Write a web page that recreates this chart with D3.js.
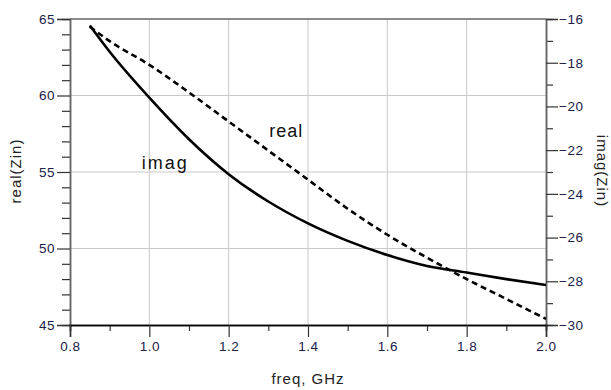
<!DOCTYPE html>
<html>
<head>
<meta charset="utf-8">
<script src="https://cdn.jsdelivr.net/npm/d3@7"></script>
<style>
  body { margin: 0; background: #fff; }
  text { font-family: Arial, "Liberation Sans", sans-serif; }
</style>
</head>
<body>
<div id="chart"></div>
<script>
// freq in GHz
var freq = [0.85, 0.9, 1.0, 1.1, 1.2, 1.3, 1.4, 1.5, 1.6, 1.7, 1.8, 1.9, 2.0];
var realZin = [64.5, 63.55, 62.0, 60.2, 58.3, 56.4, 54.5, 52.6, 50.9, 49.4, 48.0, 46.7, 45.4];
var imagZin = [-16.3, -17.5, -19.6, -21.5, -23.1, -24.35, -25.35, -26.15, -26.8, -27.3, -27.6, -27.9, -28.17];

var xTicks = [0.8, 1.0, 1.2, 1.4, 1.6, 1.8, 2.0];
var xMinor = [0.9, 1.1, 1.3, 1.5, 1.7, 1.9];
var leftTicks = [45, 50, 55, 60, 65];
var rightTicks = [-30, -28, -26, -24, -22, -20, -18, -16];

var width = 611, height = 390,
    margin = {left: 70, right: 65, top: 19, bottom: 65},
    w = width - margin.left - margin.right,
    h = height - margin.top - margin.bottom;

var svg = d3.select("#chart").append("svg")
    .attr("width", width)
    .attr("height", height);
var chart = svg.append("g")
    .attr("transform", "translate(" + margin.left + "," + margin.top + ")");

var xScale = d3.scaleLinear().domain([0.8, 2.0]).range([0, w]);
var yLeft = d3.scaleLinear().domain([45, 65]).range([h, 0]);
var yRight = d3.scaleLinear().domain([-30, -16]).range([h, 0]);

var labelColor = "#20204a";

// grid
chart.append("g").selectAll("line")
  .data(xTicks.slice(1, -1)).enter().append("line")
    .attr("x1", function (d) { return xScale(d); })
    .attr("x2", function (d) { return xScale(d); })
    .attr("y1", 0).attr("y2", h)
    .attr("stroke", "#c8c8c8").attr("stroke-width", 1);
chart.append("g").selectAll("line")
  .data(leftTicks.slice(1, -1)).enter().append("line")
    .attr("y1", function (d) { return yLeft(d); })
    .attr("y2", function (d) { return yLeft(d); })
    .attr("x1", 0).attr("x2", w)
    .attr("stroke", "#c8c8c8").attr("stroke-width", 1);

// top frame line
chart.append("line").attr("x1", 0).attr("x2", w).attr("y1", 0).attr("y2", 0)
  .attr("stroke", "#666").attr("stroke-width", 1.5);

function styleAxis(g, lineColor) {
  g.select(".domain").attr("stroke", lineColor).attr("stroke-width", 1.5);
  g.selectAll(".tick line").attr("stroke", "#333").attr("stroke-width", 1.2);
  g.selectAll(".tick text").attr("fill", labelColor)
    .style("font-size", "13.5px").style("letter-spacing", "0.5px");
}

// minor ticks
function minorRange(a, b, skip) {
  var out = [];
  for (var v = a; v <= b; v++) if (v % skip !== 0) out.push(v);
  return out;
}

var leftMinor = chart.append("g")
  .call(d3.axisLeft(yLeft).tickValues(minorRange(45, 65, 5)).tickSize(8).tickFormat(""));
styleAxis(leftMinor, "#666");
var leftAxis = chart.append("g")
  .call(d3.axisLeft(yLeft).tickValues(leftTicks).tickSize(13).tickPadding(2).tickFormat(d3.format("d")));
styleAxis(leftAxis, "#666");

var rightMinor = chart.append("g").attr("transform", "translate(" + w + ",0)")
  .call(d3.axisRight(yRight).tickValues([-29, -27, -25, -23, -21, -19, -17]).tickSize(7).tickFormat(""));
styleAxis(rightMinor, "#666");
var rightAxis = chart.append("g").attr("transform", "translate(" + w + ",0)")
  .call(d3.axisRight(yRight).tickValues(rightTicks).tickSize(12).tickPadding(1).tickFormat(d3.format("d")));
styleAxis(rightAxis, "#666");

var xMinorAxis = chart.append("g").attr("transform", "translate(0," + h + ")")
  .call(d3.axisBottom(xScale).tickValues(xMinor).tickSize(6).tickFormat(""));
styleAxis(xMinorAxis, "#000");
var xAxis = chart.append("g").attr("transform", "translate(0," + h + ")")
  .call(d3.axisBottom(xScale).tickValues(xTicks).tickSize(12).tickPadding(4).tickFormat(d3.format(".1f")));
styleAxis(xAxis, "#000");

// curves
var realLine = d3.line()
  .x(function (d, i) { return xScale(freq[i]); })
  .y(function (d) { return yLeft(d); })
  .curve(d3.curveMonotoneX);
var imagLine = d3.line()
  .x(function (d, i) { return xScale(freq[i]); })
  .y(function (d) { return yRight(d); })
  .curve(d3.curveMonotoneX);

chart.append("path").datum(realZin)
  .attr("d", realLine)
  .attr("fill", "none").attr("stroke", "#000")
  .attr("stroke-width", 2.6).attr("stroke-dasharray", "6,4");
chart.append("path").datum(imagZin)
  .attr("d", imagLine)
  .attr("fill", "none").attr("stroke", "#000")
  .attr("stroke-width", 2.6);

// curve labels
chart.append("text").attr("x", xScale(1.345)).attr("y", yLeft(57.3))
  .attr("text-anchor", "middle").style("font-size", "18px").style("letter-spacing", "1px")
  .attr("fill", "#111").text("real");
chart.append("text").attr("x", xScale(1.04)).attr("y", yLeft(55.2))
  .attr("text-anchor", "middle").style("font-size", "18px").style("letter-spacing", "2px")
  .attr("fill", "#111").text("imag");

// axis titles
svg.append("text")
  .attr("transform", "translate(21,171) rotate(-90)")
  .attr("text-anchor", "middle").style("font-size", "15px").style("letter-spacing", "1px")
  .attr("fill", "#222").text("real(Zin)");
svg.append("text")
  .attr("transform", "translate(597,171) rotate(90)")
  .attr("text-anchor", "middle").style("font-size", "15px").style("letter-spacing", "1px")
  .attr("fill", "#222").text("imag(Zin)");
svg.append("text")
  .attr("x", margin.left + xScale(1.4)).attr("y", 384)
  .attr("text-anchor", "middle").style("font-size", "15px").style("letter-spacing", "1px")
  .attr("fill", "#222").text("freq, GHz");
</script>
</body>
</html>
